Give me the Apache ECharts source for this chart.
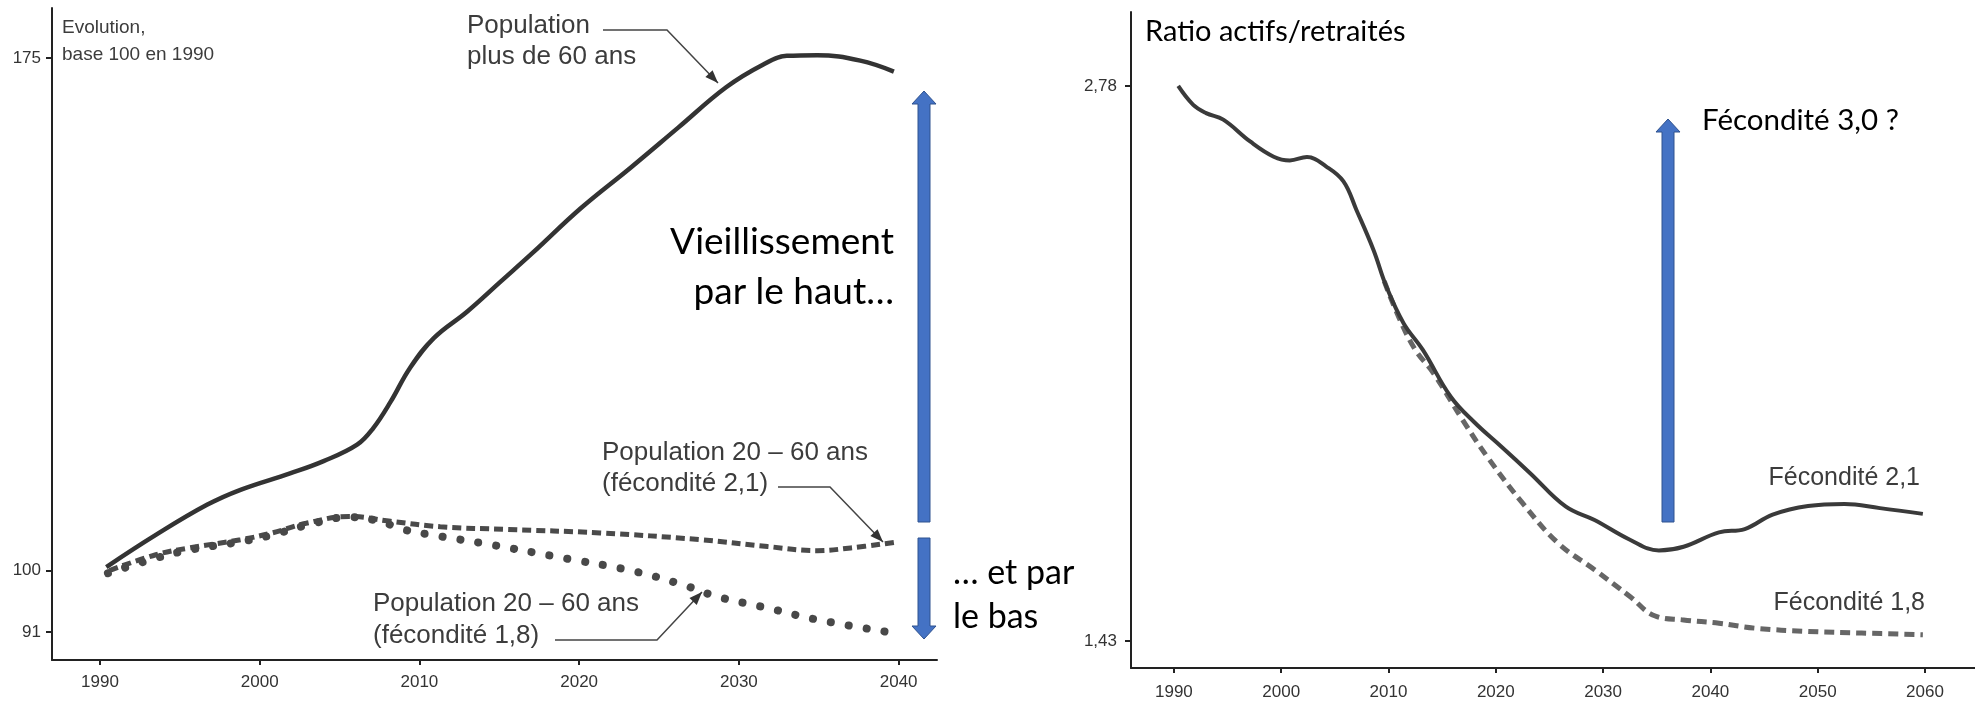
<!DOCTYPE html>
<html>
<head>
<meta charset="utf-8">
<script src="https://cdn.jsdelivr.net/npm/echarts/dist/echarts.min.js"></script>
<style>
  body { margin: 0; background: #fff; }
  #main { width: 1975px; height: 704px; }
</style>
</head>
<body>
<div id="main"></div>
<script>
// chart gauche : evolution base 100 en 1990
const seniorsYears = [1990.4, 1993.5, 1996.7, 1998.8, 2001.9, 2004, 2006.1, 2007.1, 2008.2, 2009.4, 2010.9, 2013, 2015.1, 2017.1, 2020.1, 2023.2, 2026.2, 2029.2, 2031.5, 2033, 2034.9, 2037.6, 2039.7]
const seniorsValues = [100.5, 105.2, 109.6, 111.8, 114.2, 116, 118.4, 120.8, 124.7, 129.6, 134, 137.9, 142.3, 146.5, 153, 158.9, 164.8, 170.7, 174, 175.3, 175.4, 174.6, 173]

const actifs21Years = [1990.6, 1993.5, 1995.6, 1998.8, 2000.8, 2002.9, 2005.6, 2008.2, 2011.3, 2015.5, 2021.3, 2027.6, 2031.8, 2034.9, 2037, 2039.7]
const actifs21Values = [100, 102.3, 103.3, 104.5, 105.5, 106.9, 107.9, 107.2, 106.4, 106, 105.5, 104.5, 103.5, 102.9, 103.3, 104.1]

const actifs18Years = [1990.5, 1993.5, 1995.6, 1998.8, 2000.8, 2002.9, 2005.6, 2007.5, 2009, 2011.3, 2014.4, 2018.6, 2023.4, 2026.5, 2028.6, 2031.8, 2034.9, 2039.3]
const actifs18Values = [99.6, 101.8, 103, 104.2, 105.2, 106.6, 107.8, 107.2, 106, 105, 103.8, 102, 99.9, 97.9, 96.2, 94.5, 92.8, 91]

const leftXTicks = [1990, 2000, 2010, 2020, 2030, 2040]
const leftYTicks = [91, 100, 175]

// chart droite : ratio actifs / retraites
const ratio21Years = [1990.4, 1991.8, 1993, 1994.6, 1997.1, 1999.3, 2000.8, 2002.4, 2004.2, 2005.8, 2007, 2008.6, 2009.8, 2011.4, 2013.2, 2015.8, 2018, 2020.5, 2023.2, 2026.5, 2029.2, 2032.5, 2035.2, 2037.5, 2040.8, 2043.2, 2045.8, 2049.1, 2052.5, 2055.8, 2059.8]
const ratio21Values = [2.78, 2.734, 2.714, 2.698, 2.645, 2.608, 2.599, 2.607, 2.584, 2.548, 2.479, 2.381, 2.292, 2.203, 2.138, 2.024, 1.962, 1.903, 1.838, 1.757, 1.724, 1.676, 1.65, 1.659, 1.694, 1.702, 1.737, 1.758, 1.763, 1.753, 1.739]

const ratio18Years = [2009.6, 2011, 2012.5, 2014.2, 2016.9, 2019.2, 2022.5, 2025.8, 2029.2, 2032.5, 2034.8, 2037.5, 2040.8, 2044.1, 2049.1, 2054.1, 2059.8]
const ratio18Values = [2.305, 2.215, 2.138, 2.081, 1.968, 1.878, 1.765, 1.668, 1.603, 1.538, 1.491, 1.481, 1.473, 1.461, 1.453, 1.449, 1.445]

const rightXTicks = [1990, 2000, 2010, 2020, 2030, 2040, 2050, 2060]
const rightYTicks = [1.43, 2.78]

const zip = (xs, ys) => xs.map((x, i) => [x, ys[i]])

const SANS = "'Liberation Sans', Arial, sans-serif"
const NARROW = "'Liberation Sans Narrow', 'Arial Narrow', 'Liberation Sans', sans-serif"
const OFFICE = "Lato, 'Open Sans', sans-serif"
const BLUE = '#4472C4'
const BLUE_BORDER = '#2F528F'

function axisX(gridIndex, min, max, ticks, margin) {
  return {
    type: 'value', gridIndex, min, max,
    axisLine: { lineStyle: { color: '#222', width: 2 } },
    axisTick: { customValues: ticks, length: 5, lineStyle: { color: '#222', width: 2 } },
    axisLabel: { customValues: ticks, margin, color: '#333', fontSize: 17, fontFamily: NARROW, formatter: v => String(v) },
    splitLine: { show: false }
  }
}

function axisY(gridIndex, min, max, ticks, margin, fmt) {
  return {
    type: 'value', gridIndex, min, max,
    axisLine: { show: true, lineStyle: { color: '#222', width: 2 } },
    axisTick: { show: true, customValues: ticks, length: 6, lineStyle: { color: '#222', width: 2 } },
    axisLabel: { customValues: ticks, margin, color: '#333', fontSize: 17, fontFamily: NARROW, formatter: fmt },
    splitLine: { show: false }
  }
}

function label(text, x, y, size, opts) {
  return {
    type: 'text', z: 10,
    style: Object.assign({
      text, x, y,
      font: size + 'px ' + SANS,
      fill: '#3c3c3c',
      align: 'left',
      verticalAlign: 'middle'
    }, opts || {})
  }
}

function big(text, x, y, size, align) {
  return label(text, x, y, size, { font: size + 'px ' + OFFICE, fill: '#000', align: align || 'left' })
}

// fleche fine d'annotation, pointe sur le dernier point
function callout(pts) {
  const [x1, y1] = pts[pts.length - 2]
  const [x2, y2] = pts[pts.length - 1]
  const a = Math.atan2(y2 - y1, x2 - x1)
  const len = 13, half = 5
  const bx = x2 - len * Math.cos(a), by = y2 - len * Math.sin(a)
  const head = [
    [x2, y2],
    [bx + half * Math.sin(a), by - half * Math.cos(a)],
    [bx - half * Math.sin(a), by + half * Math.cos(a)]
  ]
  return [
    { type: 'polyline', z: 10, shape: { points: pts }, style: { stroke: '#444', lineWidth: 1.5, fill: null } },
    { type: 'polygon', z: 10, shape: { points: head }, style: { fill: '#333' } }
  ]
}

// grosse fleche bleue verticale
function blockArrow(cx, tip, tail) {
  const dir = tip < tail ? 1 : -1
  const sw = 6, hw = 12, hh = 13
  const base = tip + dir * hh
  return {
    type: 'polygon', z: 10,
    shape: {
      points: [
        [cx, tip], [cx + hw, base], [cx + sw, base], [cx + sw, tail],
        [cx - sw, tail], [cx - sw, base], [cx - hw, base]
      ]
    },
    style: { fill: BLUE, stroke: BLUE_BORDER, lineWidth: 1 }
  }
}

const graphics = [
  label('Evolution,', 62, 28, 19),
  label('base 100 en 1990', 62, 55, 19),
  label('Population', 467, 26, 26),
  label('plus de 60 ans', 467, 57, 26),
  label('Population 20 – 60 ans', 602, 453, 26),
  label('(fécondité 2,1)', 602, 484, 26),
  label('Population 20 – 60 ans', 373, 604, 26),
  label('(fécondité 1,8)', 373, 636, 26),
  ...callout([[603, 30], [667, 30], [718, 83]]),
  ...callout([[778, 487], [830, 487], [883, 542]]),
  ...callout([[555, 640], [657, 640], [702, 592]]),
  blockArrow(924, 91, 522),
  blockArrow(924, 639, 538),
  blockArrow(1668, 119, 522),
  big('Vieillissement', 894, 242, 37, 'right'),
  big('par le haut…', 894, 292, 37, 'right'),
  big('… et par', 953, 573, 34),
  big('le bas', 953, 617, 34),
  big('Ratio actifs/retraités', 1145, 32, 29),
  big('Fécondité 3,0 ?', 1702, 120, 29.5),
  label('Fécondité 2,1', 1920, 478, 25, { align: 'right' }),
  label('Fécondité 1,8', 1925, 603, 25, { align: 'right' })
]

const chart = echarts.init(document.getElementById('main'))

const option = {
  animation: false,
  backgroundColor: '#fff',
  grid: [
    { left: 52, top: 8, width: 885, height: 652 },
    { left: 1131, top: 12, width: 844, height: 656 }
  ],
  xAxis: [
    axisX(0, 1987, 2042.4, leftXTicks, 14),
    axisX(1, 1986, 2064.66, rightXTicks, 16)
  ],
  yAxis: [
    axisY(0, 86.9, 182.3, leftYTicks, 11),
    axisY(1, 1.364, 2.96, rightYTicks, 14, v => v.toFixed(2).replace('.', ','))
  ],
  series: [
    {
      name: 'Population plus de 60 ans', type: 'line', xAxisIndex: 0, yAxisIndex: 0,
      data: zip(seniorsYears, seniorsValues), smooth: 0.4, symbol: 'none',
      lineStyle: { color: '#333', width: 4.5 }
    },
    {
      name: 'Population 20 – 60 ans (fécondité 2,1)', type: 'line', xAxisIndex: 0, yAxisIndex: 0,
      data: zip(actifs21Years, actifs21Values), smooth: 0.4, symbol: 'none',
      lineStyle: { color: '#4a4a4a', width: 5, type: [9, 5] }
    },
    {
      name: 'Population 20 – 60 ans (fécondité 1,8)', type: 'line', xAxisIndex: 0, yAxisIndex: 0,
      data: zip(actifs18Years, actifs18Values), smooth: 0.4, symbol: 'none',
      lineStyle: { color: '#484848', width: 8, type: [0.1, 18], cap: 'round' }
    },
    {
      name: 'Fécondité 1,8', type: 'line', xAxisIndex: 1, yAxisIndex: 1,
      data: zip(ratio18Years, ratio18Values), smooth: 0.4, symbol: 'none',
      lineStyle: { color: '#666', width: 5, type: [10, 6] }
    },
    {
      name: 'Fécondité 2,1', type: 'line', xAxisIndex: 1, yAxisIndex: 1,
      data: zip(ratio21Years, ratio21Values), smooth: 0.4, symbol: 'none',
      lineStyle: { color: '#3a3a3a', width: 4 }
    }
  ],
  graphic: graphics
}

chart.setOption(option)
</script>
</body>
</html>
